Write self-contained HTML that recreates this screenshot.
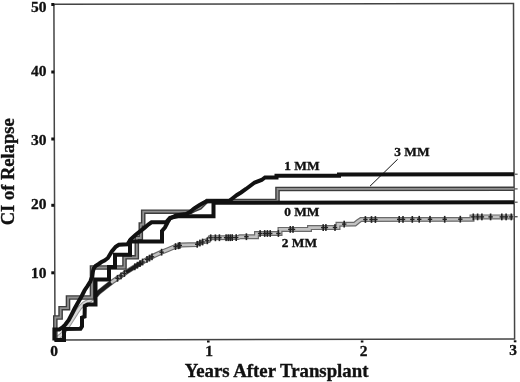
<!DOCTYPE html>
<html><head><meta charset="utf-8"><style>
html,body{margin:0;padding:0;background:#fff;width:520px;height:382px;overflow:hidden}
svg{display:block;filter:blur(0.35px)}
text{font-family:"Liberation Serif",serif;font-weight:bold;fill:#111;stroke:#111;stroke-width:0.35px}
</style></head><body>
<svg width="520" height="382" viewBox="0 0 520 382">
<g fill="none" stroke="#444" stroke-width="1.5">
<path d="M53.9 4.3 L513.5 3.5 L514.6 338.9 L55 340 Z"/>
</g>
<g fill="#111">
<rect x="51.3" y="3" width="3" height="3"/>
<rect x="51.3" y="70.5" width="3" height="3"/>
<rect x="51.3" y="137.5" width="3" height="3"/>
<rect x="51.3" y="203.8" width="3" height="3"/>
<rect x="51.3" y="271.3" width="3" height="3"/>
<rect x="207" y="340.5" width="2.6" height="2"/>
<rect x="360.8" y="340.5" width="2.6" height="2"/>
<rect x="513.8" y="340.3" width="2.6" height="2"/>
</g>
<g font-size="15.5" text-anchor="end">
<text x="46.5" y="12.3">50</text>
<text x="46.5" y="76.1">40</text>
<text x="46.5" y="145.4">30</text>
<text x="46.5" y="209.2">20</text>
<text x="46.5" y="278.3">10</text>
</g>
<g font-size="15.5" text-anchor="middle">
<text x="54" y="356.2" font-weight="normal">0</text>
<text x="209" y="356.2">1</text>
<text x="363.5" y="355.6">2</text>
<text x="513" y="355.3">3</text>
</g>
<text x="276.6" y="377" font-size="18.8" text-anchor="middle">Years After Transplant</text>
<text transform="translate(14.4 171.8) rotate(-90)" font-size="18.5" text-anchor="middle">CI of Relapse</text>
<g font-size="13.4">
<text x="284.3" y="170.3">1 MM</text>
<text x="394.3" y="156.3">3 MM</text>
<text x="284.2" y="216.1">0 MM</text>
<text x="281.8" y="246.9">2 MM</text>
</g>
<path d="M397.7 159.2 L370 186.2" stroke="#111" stroke-width="1"/>
<g fill="#555"><rect x="515" y="173.6" width="2.6" height="1.2"/><rect x="515" y="188.3" width="2.6" height="1.2"/><rect x="515" y="201.6" width="2.6" height="1.2"/><rect x="515" y="216" width="2.6" height="1.4"/></g>
<g fill="none">
<path d="M56 339 L62 334.5 L66 329 L69.5 323.5 L73 318 L76.5 312.5 L80 307.5 L84 303.5 L90 300.3 L95 296.5 L97 294.214" stroke="#9a9a9a" stroke-width="4.6"/>
<path d="M56 339 L62 334.5 L66 329 L69.5 323.5 L73 318 L76.5 312.5 L80 307.5 L84 303.5 L90 300.3 L95 296.5 L97 294.214" stroke="#d8d8d8" stroke-width="2.4"/>
<path d="M96 295.357 L98.5 292.5 L105.4 287 L112.3 281.7 L119.2 277.2 L126.2 272.2 L133 267.9 L140 263.6 L147 259.4 L153.8 255.8 L160.8 252.5 L167.7 249.7 L174.6 246.8 L181.5 245 L196.5 244.6 L200 243 L204 241.5 L208.6 240.5 L210 237.8 L238 237.6 L240 236.7 L256.5 236.7 L256.5 233.5 L280 233.5 L280 229.4 L309.5 229.4 L309.5 227.6 L338 227.5 L338 224.2 L355 224 L358 221.5 L361 219.5 L472 219.2 L472 216.9 L514 216.9" stroke="#6a6a6a" stroke-width="5"/>
<path d="M96 295.357 L98.5 292.5 L105.4 287 L112.3 281.7 L119.2 277.2 L126.2 272.2 L133 267.9 L140 263.6 L147 259.4 L153.8 255.8 L160.8 252.5 L167.7 249.7 L174.6 246.8 L181.5 245 L196.5 244.6 L200 243 L204 241.5 L208.6 240.5 L210 237.8 L238 237.6 L240 236.7 L256.5 236.7 L256.5 233.5 L280 233.5 L280 229.4 L309.5 229.4 L309.5 227.6 L338 227.5 L338 224.2 L355 224 L358 221.5 L361 219.5 L472 219.2 L472 216.9 L514 216.9" stroke="#c2c2c2" stroke-width="2.6"/>
</g>
<g fill="#222"><rect x="116.7" y="274.9" width="1.6" height="6.8"/><rect x="115.3" y="277.6" width="4.4" height="1.4"/><rect x="120.2" y="272.5" width="1.6" height="6.8"/><rect x="118.8" y="275.2" width="4.4" height="1.4"/><rect x="123.6" y="270.1" width="1.6" height="6.8"/><rect x="122.2" y="272.8" width="4.4" height="1.4"/><rect x="134.0" y="263.4" width="1.6" height="6.8"/><rect x="132.6" y="266.1" width="4.4" height="1.4"/><rect x="136.6" y="261.8" width="1.6" height="6.8"/><rect x="135.2" y="264.5" width="4.4" height="1.4"/><rect x="139.2" y="260.2" width="1.6" height="6.8"/><rect x="137.8" y="262.9" width="4.4" height="1.4"/><rect x="141.8" y="258.6" width="1.6" height="6.8"/><rect x="140.4" y="261.3" width="4.4" height="1.4"/><rect x="146.2" y="256.0" width="1.6" height="6.8"/><rect x="144.8" y="258.7" width="4.4" height="1.4"/><rect x="148.7" y="254.7" width="1.6" height="6.8"/><rect x="147.3" y="257.4" width="4.4" height="1.4"/><rect x="151.2" y="253.4" width="1.6" height="6.8"/><rect x="149.8" y="256.1" width="4.4" height="1.4"/><rect x="160.8" y="248.8" width="1.6" height="6.8"/><rect x="159.4" y="251.5" width="4.4" height="1.4"/><rect x="174.7" y="243.2" width="1.6" height="6.8"/><rect x="173.3" y="245.9" width="4.4" height="1.4"/><rect x="179.0" y="242.0" width="1.6" height="6.8"/><rect x="177.6" y="244.7" width="4.4" height="1.4"/><rect x="177.6" y="242.4" width="1.6" height="6.8"/><rect x="176.2" y="245.1" width="4.4" height="1.4"/><rect x="196.4" y="240.9" width="1.6" height="6.8"/><rect x="195.0" y="243.6" width="4.4" height="1.4"/><rect x="199.1" y="239.6" width="1.6" height="6.8"/><rect x="197.7" y="242.3" width="4.4" height="1.4"/><rect x="201.8" y="238.6" width="1.6" height="6.8"/><rect x="200.4" y="241.3" width="4.4" height="1.4"/><rect x="206.5" y="237.4" width="1.6" height="6.8"/><rect x="205.1" y="240.1" width="4.4" height="1.4"/><rect x="209.9" y="234.4" width="1.6" height="6.8"/><rect x="208.5" y="237.1" width="4.4" height="1.4"/><rect x="214.6" y="234.4" width="1.6" height="6.8"/><rect x="213.2" y="237.1" width="4.4" height="1.4"/><rect x="218.6" y="234.3" width="1.6" height="6.8"/><rect x="217.2" y="237.0" width="4.4" height="1.4"/><rect x="225.3" y="234.3" width="1.6" height="6.8"/><rect x="223.9" y="237.0" width="4.4" height="1.4"/><rect x="227.4" y="234.3" width="1.6" height="6.8"/><rect x="226.0" y="237.0" width="4.4" height="1.4"/><rect x="229.4" y="234.3" width="1.6" height="6.8"/><rect x="228.0" y="237.0" width="4.4" height="1.4"/><rect x="231.4" y="234.2" width="1.6" height="6.8"/><rect x="230.0" y="236.9" width="4.4" height="1.4"/><rect x="235.4" y="234.2" width="1.6" height="6.8"/><rect x="234.0" y="236.9" width="4.4" height="1.4"/><rect x="245.6" y="233.3" width="1.6" height="6.8"/><rect x="244.2" y="236.0" width="4.4" height="1.4"/><rect x="259.3" y="230.1" width="1.6" height="6.8"/><rect x="257.9" y="232.8" width="4.4" height="1.4"/><rect x="263.9" y="230.1" width="1.6" height="6.8"/><rect x="262.5" y="232.8" width="4.4" height="1.4"/><rect x="266.6" y="230.1" width="1.6" height="6.8"/><rect x="265.2" y="232.8" width="4.4" height="1.4"/><rect x="269.4" y="230.1" width="1.6" height="6.8"/><rect x="268.0" y="232.8" width="4.4" height="1.4"/><rect x="277.6" y="230.1" width="1.6" height="6.8"/><rect x="276.2" y="232.8" width="4.4" height="1.4"/><rect x="289.5" y="226.0" width="1.6" height="6.8"/><rect x="288.1" y="228.7" width="4.4" height="1.4"/><rect x="292.2" y="226.0" width="1.6" height="6.8"/><rect x="290.8" y="228.7" width="4.4" height="1.4"/><rect x="322.4" y="224.2" width="1.6" height="6.8"/><rect x="321.0" y="226.9" width="4.4" height="1.4"/><rect x="325.1" y="224.1" width="1.6" height="6.8"/><rect x="323.7" y="226.8" width="4.4" height="1.4"/><rect x="334.2" y="224.1" width="1.6" height="6.8"/><rect x="332.8" y="226.8" width="4.4" height="1.4"/><rect x="343.4" y="220.7" width="1.6" height="6.8"/><rect x="342.0" y="223.4" width="4.4" height="1.4"/><rect x="364.6" y="216.1" width="1.6" height="6.8"/><rect x="363.2" y="218.8" width="4.4" height="1.4"/><rect x="370.7" y="216.1" width="1.6" height="6.8"/><rect x="369.3" y="218.8" width="4.4" height="1.4"/><rect x="374.6" y="216.1" width="1.6" height="6.8"/><rect x="373.2" y="218.8" width="4.4" height="1.4"/><rect x="398.4" y="216.0" width="1.6" height="6.8"/><rect x="397.0" y="218.7" width="4.4" height="1.4"/><rect x="402.2" y="216.0" width="1.6" height="6.8"/><rect x="400.8" y="218.7" width="4.4" height="1.4"/><rect x="411.5" y="216.0" width="1.6" height="6.8"/><rect x="410.1" y="218.7" width="4.4" height="1.4"/><rect x="418.4" y="215.9" width="1.6" height="6.8"/><rect x="417.0" y="218.6" width="4.4" height="1.4"/><rect x="429.2" y="215.9" width="1.6" height="6.8"/><rect x="427.8" y="218.6" width="4.4" height="1.4"/><rect x="443.9" y="215.9" width="1.6" height="6.8"/><rect x="442.5" y="218.6" width="4.4" height="1.4"/><rect x="459.5" y="215.8" width="1.6" height="6.8"/><rect x="458.1" y="218.5" width="4.4" height="1.4"/><rect x="472.5" y="213.5" width="1.6" height="6.8"/><rect x="471.1" y="216.2" width="4.4" height="1.4"/><rect x="476.8" y="213.5" width="1.6" height="6.8"/><rect x="475.4" y="216.2" width="4.4" height="1.4"/><rect x="481.1" y="213.5" width="1.6" height="6.8"/><rect x="479.7" y="216.2" width="4.4" height="1.4"/><rect x="489.8" y="213.5" width="1.6" height="6.8"/><rect x="488.4" y="216.2" width="4.4" height="1.4"/><rect x="501.0" y="213.5" width="1.6" height="6.8"/><rect x="499.6" y="216.2" width="4.4" height="1.4"/><rect x="505.3" y="213.5" width="1.6" height="6.8"/><rect x="503.9" y="216.2" width="4.4" height="1.4"/><rect x="510.5" y="213.5" width="1.6" height="6.8"/><rect x="509.1" y="216.2" width="4.4" height="1.4"/></g>
<path d="M95 296.5 L98.5 292.5 L105.4 287 L111 282.699" fill="none" stroke="#1a1a1a" stroke-width="4"/>
<path d="M126 272.343 L126.2 272.2 L133 267.9 L140 263.6 L141.5 262.7" fill="none" stroke="#1a1a1a" stroke-width="3.6"/>
<g fill="none">
<path d="M55.3 339 L55.3 317.5 L60.6 317.5 L60.6 308.2 L68 308.2 L68 297.5 L92 297.5 L92 267.5 L124.5 267.5 L124.5 257.3 L136.8 257.3 L136.8 238 L140.8 238 L140.8 224.5 L143.2 224.5 L143.2 211.7 L191 211.7 L195 209.5 L200 207.5 L204 203.5 L207 201 L277.5 201 L277.5 189 L514 188.8" stroke="#3c3c3c" stroke-width="4.6"/>
<path d="M55.3 339 L55.3 317.5 L60.6 317.5 L60.6 308.2 L68 308.2 L68 297.5 L92 297.5 L92 267.5 L124.5 267.5 L124.5 257.3 L136.8 257.3 L136.8 238 L140.8 238 L140.8 224.5 L143.2 224.5 L143.2 211.7 L191 211.7 L195 209.5 L200 207.5 L204 203.5 L207 201 L277.5 201 L277.5 189 L514 188.8" stroke="#909090" stroke-width="1.8"/>
</g>
<path d="M54.4 340.5 L54.4 329.5 L59.3 329.5 L62.5 327.4 L65.6 324.3 L68.8 320 L71.9 314 L74.5 308.8 L78 302.5 L81.5 296.5 L84.5 290.5 L87.5 286 L90.3 281.5 L92 277 L92.8 272 L93.8 268.3 L95.5 266 L98.7 264 L101.5 262 L104.5 260.5 L107.9 258 L111.8 251.5 L115.7 246.8 L118.9 244.8 L127.5 244.3 L130.5 239.5 L135.7 234.8 L141 230.6 L145 227.4 L148.3 224.5 L151.5 222.3 L166 222.3 L170 217.8 L178 216.3 L213.5 216.3 L213.5 202.8 L514 202.3" fill="none" stroke="#111" stroke-width="4"/>
<path d="M54.4 340 L64 340 L64 328.9 L80.5 328.7 L82 326.5 L82 317.5 L84.6 316.5 L84.8 306 L87.5 304.6 L95.5 304.6 L95.5 279.5 L109 279.5 L109 267 L115 267 L115 254.8 L130 254.8 L130 241.5 L162 241.5 L162 231 L165 227.5 L167.5 222.5 L170 218.5 L176 215.5 L186 214 L190 212 L194 208.5 L199.6 205 L203.6 202.7 L207 201.2 L229.5 200.8 L233 198 L237 195 L241 192.5 L246 189 L250 186 L254.7 182.5 L261.6 180 L265 177.5 L276.5 177.5 L276.5 175.8 L339 175.8 L339 174.4 L514 174.2" fill="none" stroke="#111" stroke-width="4"/>
</svg>
</body></html>
